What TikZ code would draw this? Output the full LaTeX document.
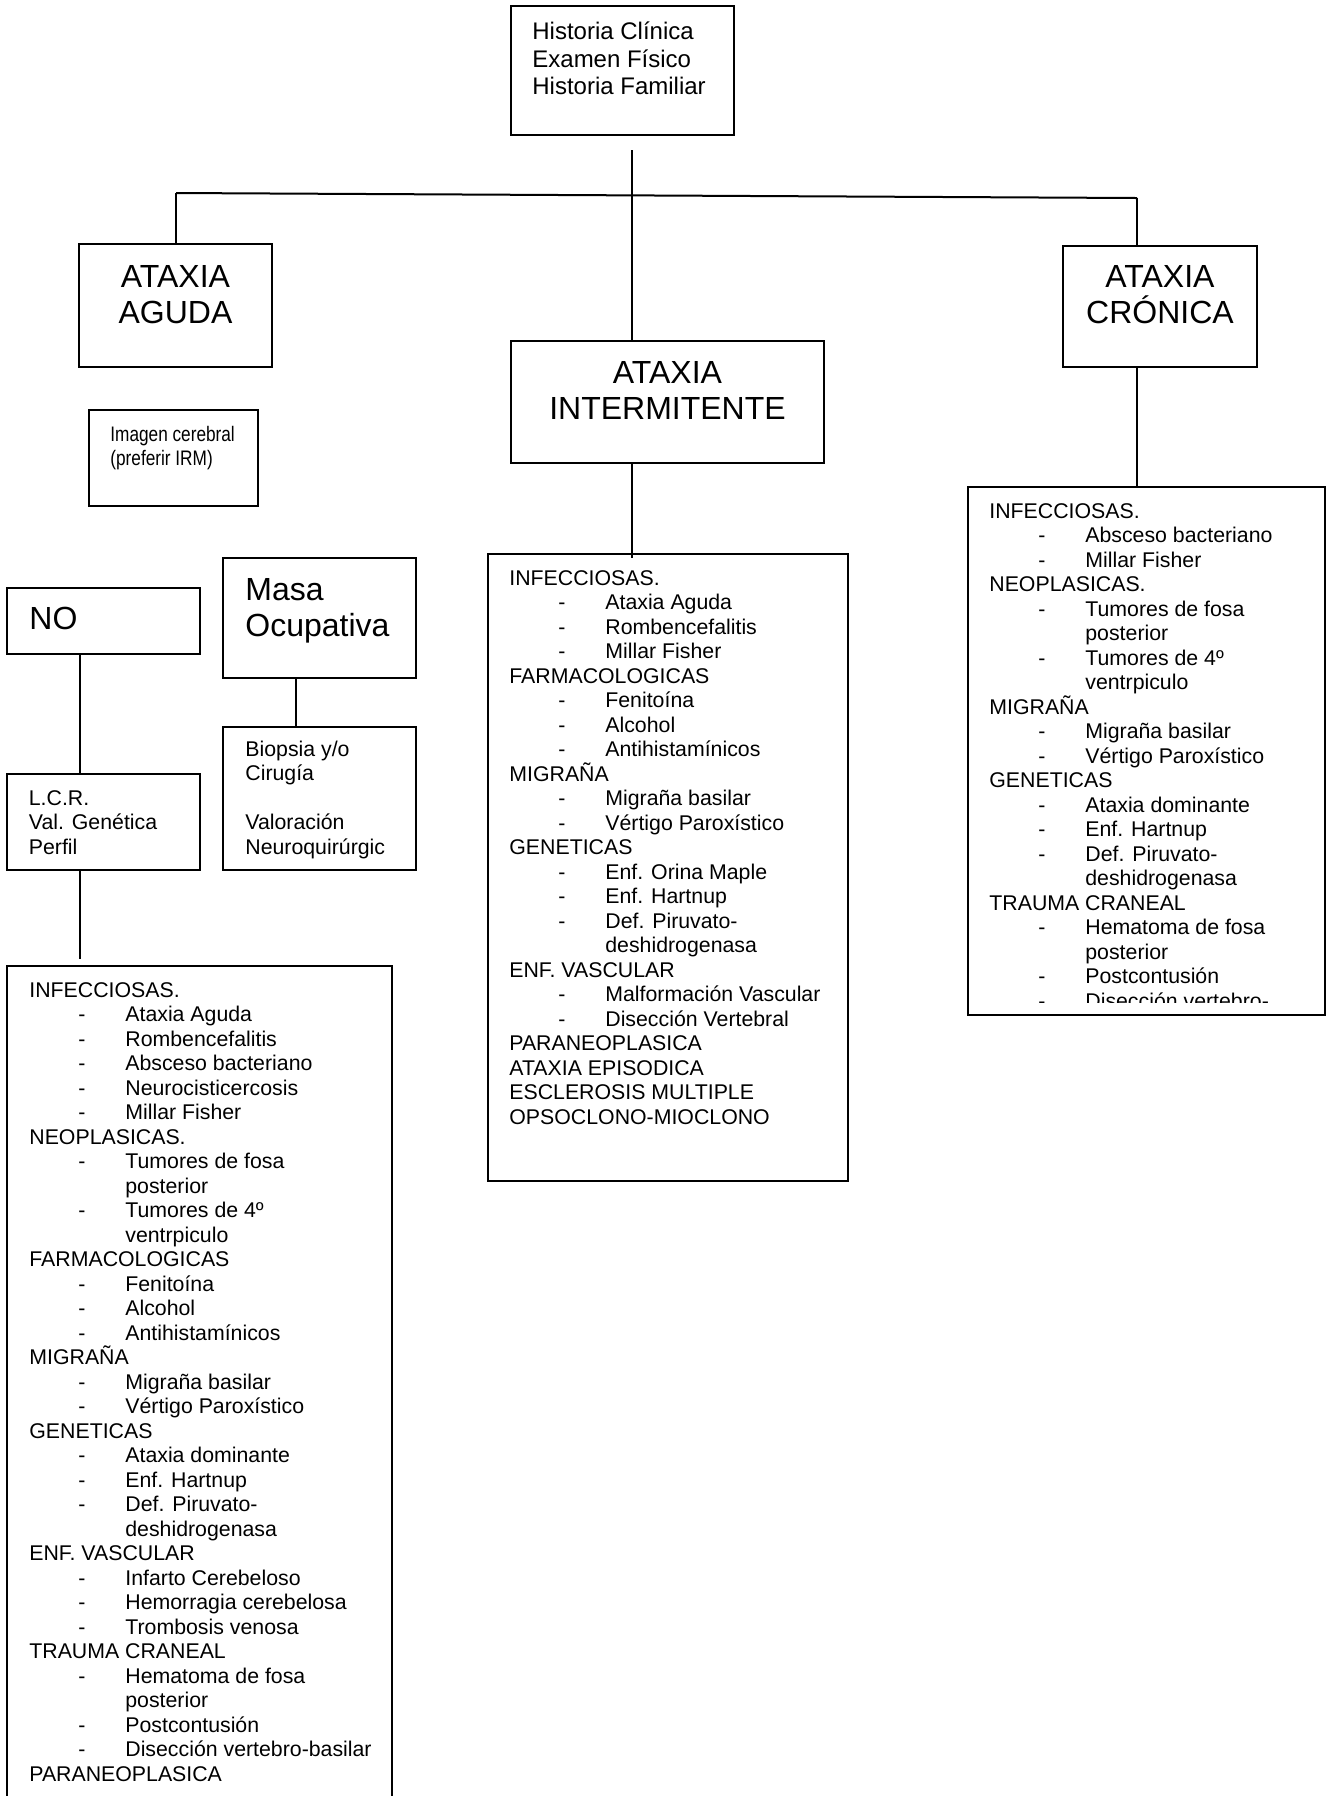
\documentclass[tikz,border=0pt]{standalone}
\usepackage{fontspec}
\setmainfont{Liberation Sans}
\newfontfamily\narrowfont{Liberation Sans}[FakeStretch=0.82]
\usepackage{tikz}
\usetikzlibrary{calc}

\newcommand{\causa}[1]{\par\hspace*{24.5pt}\makebox[23.5pt][l]{-}#1}
\newcommand{\sigue}[1]{\par\hspace*{48pt}#1}

\begin{document}
\begin{tikzpicture}[
  x=0.5pt, y=-0.5pt,
  box/.style={draw, line width=1pt, inner sep=0pt, outer sep=0pt, anchor=north west},
  txt/.style={inner sep=0pt, anchor=base west, font=\fontsize{10.65}{12.25}\selectfont},
  titletxt/.style={txt, font=\fontsize{12}{13.8}\selectfont},
  bigtxt/.style={txt, font=\fontsize{16}{18}\selectfont},
  conn/.style={draw, line width=1pt}
]
\useasboundingbox (0,0) rectangle (1330,1796);
\clip (0,0) rectangle (1330,1796);

% top
\node[box, minimum width=111.5pt, minimum height=64.5pt] (hist) at (511,6) {};
\node[titletxt] (hist-t) at (532,39.5) {\parbox[t]{100pt}{Historia Clínica\\Examen Físico\\Historia Familiar}};

% three kinds
\node[box, minimum width=96.5pt, minimum height=61.5pt] (aguda) at (79,244) {};
\node[bigtxt, anchor=base] (aguda-t) at (175.5,287.5) {\parbox[t]{90pt}{\centering ATAXIA\\AGUDA}};

\node[box, minimum width=156.5pt, minimum height=61pt] (inter) at (511,341) {};
\node[bigtxt, anchor=base] (inter-t) at (667.5,383.5) {\parbox[t]{150pt}{\centering ATAXIA\\INTERMITENTE}};

\node[box, minimum width=97pt, minimum height=60.5pt] (cronica) at (1063,246) {};
\node[bigtxt, anchor=base] (cronica-t) at (1160,287.5) {\parbox[t]{90pt}{\centering ATAXIA\\CRÓNICA}};

% acute branch
\node[box, minimum width=84.5pt, minimum height=48pt] (imagen) at (89,410) {};
\node[txt, font=\narrowfont\fontsize{10.5}{12}\selectfont] (imagen-t) at (110,441.5) {\parbox[t]{80pt}{Imagen cerebral\\(preferir IRM)}};

\node[box, minimum width=96.5pt, minimum height=33pt] (no) at (7,588) {};
\node[bigtxt] (no-t) at (29,629) {NO};

\node[box, minimum width=96.5pt, minimum height=60pt] (masa) at (223,558) {};
\node[bigtxt] (masa-t) at (245,600.5) {\parbox[t]{90pt}{Masa\\Ocupativa}};

\node[box, minimum width=96.5pt, minimum height=48pt] (lcr) at (7,774) {};
\node[txt] (lcr-t) at (28.5,805) {\parbox[t]{90pt}{L.C.R.\\Val. Genética\\Perfil}};

\node[box, minimum width=96.5pt, minimum height=71.5pt] (biopsia) at (223,727) {};
\node[txt] (biopsia-t) at (245,756) {\parbox[t]{90pt}{Biopsia y/o\\Cirugía\\[12.25pt]Valoración\\Neuroquirúrgic}};

\node[box, minimum width=192.5pt, minimum height=467pt] (agudalist) at (7,966) {};
\node[txt] (agudalist-t) at (29,997) {\parbox[t]{185pt}{INFECCIOSAS.
  \causa{Ataxia Aguda}
  \causa{Rombencefalitis}
  \causa{Absceso bacteriano}
  \causa{Neurocisticercosis}
  \causa{Millar Fisher}
  \par NEOPLASICAS.
  \causa{Tumores de fosa}
  \sigue{posterior}
  \causa{Tumores de 4º}
  \sigue{ventrpiculo}
  \par FARMACOLOGICAS
  \causa{Fenitoína}
  \causa{Alcohol}
  \causa{Antihistamínicos}
  \par MIGRAÑA
  \causa{Migraña basilar}
  \causa{Vértigo Paroxístico}
  \par GENETICAS
  \causa{Ataxia dominante}
  \causa{Enf. Hartnup}
  \causa{Def. Piruvato-}
  \sigue{deshidrogenasa}
  \par ENF. VASCULAR
  \causa{Infarto Cerebeloso}
  \causa{Hemorragia cerebelosa}
  \causa{Trombosis venosa}
  \par TRAUMA CRANEAL
  \causa{Hematoma de fosa}
  \sigue{posterior}
  \causa{Postcontusión}
  \causa{Disección vertebro-basilar}
  \par PARANEOPLASICA}};

% intermittent branch
\node[box, minimum width=180pt, minimum height=313.5pt] (interlist) at (488,554) {};
\node[txt] (interlist-t) at (509,585) {\parbox[t]{175pt}{INFECCIOSAS.
  \causa{Ataxia Aguda}
  \causa{Rombencefalitis}
  \causa{Millar Fisher}
  \par FARMACOLOGICAS
  \causa{Fenitoína}
  \causa{Alcohol}
  \causa{Antihistamínicos}
  \par MIGRAÑA
  \causa{Migraña basilar}
  \causa{Vértigo Paroxístico}
  \par GENETICAS
  \causa{Enf. Orina Maple}
  \causa{Enf. Hartnup}
  \causa{Def. Piruvato-}
  \sigue{deshidrogenasa}
  \par ENF. VASCULAR
  \causa{Malformación Vascular}
  \causa{Disección Vertebral}
  \par PARANEOPLASICA
  \par ATAXIA EPISODICA
  \par ESCLEROSIS MULTIPLE
  \par OPSOCLONO-MIOCLONO}};

% chronic branch
\node[box, minimum width=178.5pt, minimum height=264pt] (cronicalist) at (968,487) {};
\begin{scope}
\clip (968,487) rectangle (1325,1002);
\node[txt] (cronicalist-t) at (989,518) {\parbox[t]{175pt}{INFECCIOSAS.
  \causa{Absceso bacteriano}
  \causa{Millar Fisher}
  \par NEOPLASICAS.
  \causa{Tumores de fosa}
  \sigue{posterior}
  \causa{Tumores de 4º}
  \sigue{ventrpiculo}
  \par MIGRAÑA
  \causa{Migraña basilar}
  \causa{Vértigo Paroxístico}
  \par GENETICAS
  \causa{Ataxia dominante}
  \causa{Enf. Hartnup}
  \causa{Def. Piruvato-}
  \sigue{deshidrogenasa}
  \par TRAUMA CRANEAL
  \causa{Hematoma de fosa}
  \sigue{posterior}
  \causa{Postcontusión}
  \causa{Disección vertebro-}}};
\end{scope}

% connectors
\coordinate (hl) at (176,193);
\coordinate (hr) at (1137,198);
\coordinate (hm) at (632,195.5);
\draw[conn] (hl) -- (hr);
\draw[conn] (hl) -- (hl |- aguda.north);
\draw[conn] (hr) -- (hr |- cronica.north);
\draw[conn] ([yshift=-7.5pt]hm |- hist.south) -- (hm |- inter.north);
\draw[conn] (hm |- inter.south) -- ([yshift=-2pt]hm |- interlist.north);
\draw[conn] (hr |- cronica.south) -- (hr |- cronicalist.north);
\draw[conn] ([xshift=-11.75pt]no.south) -- ([xshift=-11.75pt]lcr.north);
\draw[conn] ([xshift=-11.75pt]masa.south) -- ([xshift=-11.75pt]biopsia.north);
\draw[conn, shorten >=3.5pt] ([xshift=-11.75pt]lcr.south) -- ([xshift=-11.75pt]lcr.south |- agudalist.north);
\end{tikzpicture}
\end{document}
